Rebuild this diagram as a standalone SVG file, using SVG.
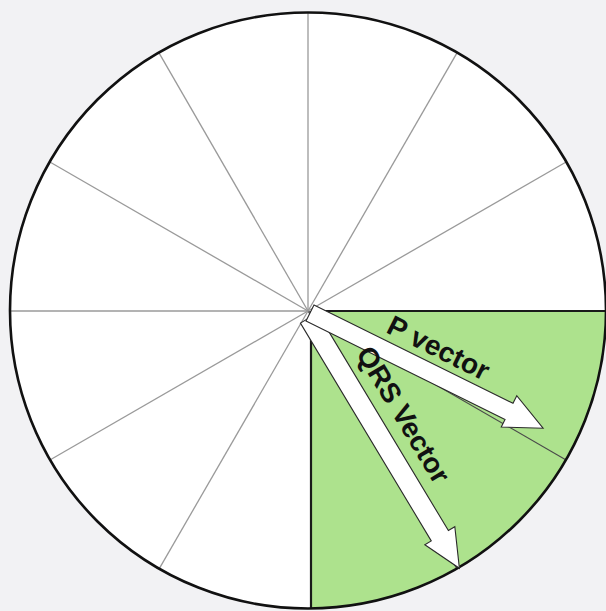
<svg xmlns="http://www.w3.org/2000/svg" width="606" height="611" viewBox="0 0 606 611">
<style>
.spoke{stroke:#9a9a9a;stroke-width:1.3;fill:none}
.edge{stroke:#1a1a1a;stroke-width:2.2;fill:none}
.arrow{fill:#ffffff;stroke:#2a2a2a;stroke-width:1.1;stroke-linejoin:miter}
.lbl{font-family:"Liberation Sans",Arial,Helvetica,sans-serif;font-weight:bold;font-size:28px;fill:#111}
</style>
<rect width="606" height="611" fill="#f2f2f4"/>
<g id="wheel">
<circle cx="308" cy="310.5" r="298" fill="#ffffff"/>
<path id="sector" d="M311 311 H606 A298 298 0 0 1 311 608.5 Z" fill="#ade28d"/>
</g>
<g id="connectors">
<line class="spoke" x1="308" y1="311" x2="566.1" y2="460" style="stroke:#4a4a4a;stroke-width:1.1"/>
<line class="spoke" x1="308" y1="311" x2="457" y2="569.1" style="stroke:#4a4a4a;stroke-width:1.1"/>
<line class="spoke" x1="308" y1="311" x2="159" y2="569.1"/>
<line class="spoke" x1="308" y1="311" x2="49.9" y2="460"/>
<line class="spoke" x1="308" y1="311" x2="10" y2="311"/>
<line class="spoke" x1="308" y1="311" x2="49.9" y2="162"/>
<line class="spoke" x1="308" y1="311" x2="159" y2="52.9"/>
<line class="spoke" x1="308" y1="311" x2="308" y2="13"/>
<line class="spoke" x1="308" y1="311" x2="457" y2="52.9"/>
<line class="spoke" x1="308" y1="311" x2="566.1" y2="162"/>
<line class="edge" x1="311" y1="311" x2="606" y2="311"/>
<line class="edge" x1="311" y1="311" x2="311" y2="608.5"/>
<circle cx="308" cy="310.5" r="298" fill="none" stroke="#111" stroke-width="2.6"/>
</g>
<g id="qrs-vector" transform="translate(309,318) rotate(59)">
<polygon class="arrow" points="0,-10 254,-10 254,-17.5 292,0 254,17.5 254,10 0,10"/>
</g>
<g id="p-vector" transform="translate(310,313) rotate(26.3)">
<polygon class="arrow" points="0,-9 222,-9 222,-17.5 260,0 222,17.5 222,9 0,9"/>
</g>
<g id="labels">
<text class="lbl" transform="translate(385,332) rotate(26.5)">P vector</text>
<text class="lbl" transform="translate(355.5,353.5) rotate(59)">QRS Vector</text>
</g>
</svg>
